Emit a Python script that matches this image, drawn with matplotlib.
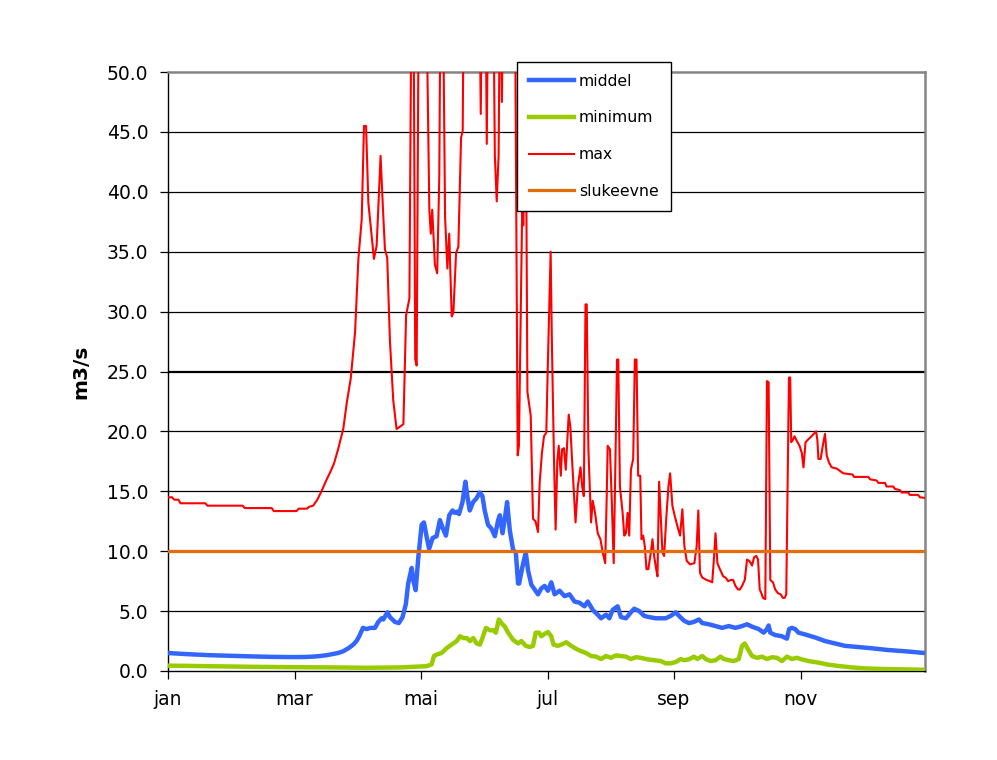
import matplotlib
matplotlib.use("Agg")
import matplotlib.pyplot as plt
from matplotlib.lines import Line2D

# ---------------- data (day of year, m3/s) ----------------
month_ticks = [0, 61, 122, 183, 244, 305]
month_labels = ["jan", "mar", "mai", "jul", "sep", "nov"]
y_ticks = [0, 5, 10, 15, 20, 25, 30, 35, 40, 45, 50]

slukeevne = 10.0

max_pts = [
    (0, 14.5), (2, 14.5), (3, 14.3), (5, 14.3), (6, 14.0), (18, 14.0), (19, 13.8), (36, 13.8),
    (37, 13.6), (50, 13.6), (51, 13.35), (62, 13.35), (63, 13.55), (67, 13.55), (68, 13.7),
    (70, 13.8), (72, 14.3), (74, 15.0), (76, 15.8), (78.5, 16.7), (80, 17.3), (82, 18.5),
    (84.5, 20.2), (86.2, 22.4), (88.1, 24.4), (90.2, 28.3), (91.8, 34.4), (93.4, 37.7),
    (94.5, 45.5), (95.5, 45.5), (96.6, 39.1), (97.7, 37.2), (99.3, 34.4), (100.6, 35.5),
    (102.5, 43.0), (103.8, 38.0), (104.6, 35.2), (105.7, 34.5), (107, 27.6), (108.6, 22.6),
    (110.2, 20.2), (111.9, 20.4), (113.5, 20.6), (114.8, 29.7), (116.4, 31.1), (117.5, 60),
    (118.3, 60), (119.2, 26), (119.9, 25.5), (121.0, 60), (124.3, 60), (126.0, 38.5),
    (126.7, 36.5), (127.4, 38.5), (128.7, 33.9), (129.8, 33.2), (130.8, 41.2), (131.5, 60),
    (132.4, 60), (133.6, 37.9), (134.7, 33.6), (135.6, 36.5), (136.8, 29.6), (137.6, 29.9),
    (138.9, 34.9), (140.0, 35.4), (141.3, 44.5), (142.1, 45.1), (142.7, 60), (150.0, 60),
    (150.8, 46.5), (151.5, 60), (153.0, 60), (153.7, 44.0), (154.5, 60), (156.7, 60),
    (157.6, 43), (158.5, 39.2), (159.4, 43), (160.2, 60), (161.0, 47.5), (161.7, 60),
    (167.2, 60), (168.6, 18.0), (169.2, 18.8), (170.2, 31.6), (170.8, 38.9), (171.3, 37.2),
    (172.0, 42), (172.8, 38.9), (173.3, 23.3), (174.9, 21.3), (176.0, 12.7), (177.2, 12.5),
    (178.4, 11.6), (179.2, 15.7), (180.3, 18.2), (181.3, 19.6), (182.4, 19.9), (183.2, 26),
    (184.5, 35.0), (185.1, 27.4), (186.1, 17.7), (186.9, 11.8), (187.7, 17.5), (188.4, 18.8),
    (189.4, 16.3), (190.0, 18.5), (190.9, 18.6), (191.8, 16.8), (192.4, 18.8), (193.2, 21.4),
    (194.0, 20.4), (194.8, 17.7), (195.7, 14.9), (196.5, 12.4), (197.6, 15.4), (198.9, 17.0),
    (199.7, 15.4), (200.5, 14.6), (201.3, 30.6), (201.9, 30.6), (202.7, 18.5), (204.0, 12.4),
    (204.8, 14.2), (205.9, 13.2), (207.2, 11.5), (208.5, 11.0), (209.6, 9.9), (210.8, 9.0),
    (211.5, 14.3), (212.0, 18.8), (213.1, 18.5), (213.9, 14.6), (214.9, 9.0), (215.7, 17.1),
    (216.5, 26.0), (217.1, 26.0), (217.9, 15.4), (219.2, 13.2), (220.0, 11.3), (220.8, 11.5),
    (221.6, 13.2), (222.4, 11.3), (223.2, 16.8), (224.3, 17.7), (225.1, 26.0), (225.9, 26.0),
    (226.7, 16.3), (227.7, 16.3), (228.3, 11.0), (229.1, 11.3), (229.9, 10.4), (230.7, 8.5),
    (231.6, 8.5), (232.8, 9.9), (233.6, 11.0), (234.4, 9.6), (235.2, 8.7), (236.0, 7.9),
    (236.8, 15.8), (237.6, 12.9), (238.4, 9.9), (239.2, 9.6), (240.3, 12.9), (241.3, 15.4),
    (242.1, 16.5), (243.2, 13.8), (244.4, 12.9), (245.6, 12.1), (246.9, 11.3), (248.0, 13.5),
    (249.0, 10.4), (250.1, 9.2), (251.7, 8.9), (253.8, 9.0), (254.9, 10.4), (255.7, 13.4),
    (256.5, 8.2), (257.6, 7.8), (259.7, 7.6), (261.3, 7.5), (262.4, 7.4), (263.2, 9.3),
    (264.0, 11.5), (264.9, 9.0), (266.1, 8.5), (267.7, 7.9), (268.8, 7.8), (270.1, 7.5),
    (271.4, 7.6), (272.5, 7.6), (273.6, 7.1), (274.9, 6.8), (275.7, 6.8), (276.8, 7.1),
    (278.1, 7.6), (279.2, 9.3), (280.2, 9.2), (281.0, 9.0), (281.6, 8.8), (282.6, 9.5),
    (283.7, 9.6), (284.5, 9.3), (285.3, 6.8), (286.1, 6.5), (286.9, 6.1), (288.0, 6.0),
    (288.8, 24.2), (289.6, 24.1), (290.4, 7.6), (291.7, 7.4), (292.8, 6.8), (294.1, 6.5),
    (295.4, 6.4), (296.5, 6.1), (297.3, 6.1), (298.1, 6.4), (298.9, 17.7), (299.4, 24.5),
    (300.0, 24.5), (300.5, 19.1), (301.3, 19.3), (302.1, 19.6), (303.2, 19.2), (304.5, 18.8),
    (305.6, 18.2), (306.4, 17.0), (307.4, 19.1), (308.5, 19.3), (310.3, 19.6), (312.5, 20.0),
    (313.1, 19.3), (313.6, 17.7), (314.7, 17.7), (315.7, 18.8), (316.8, 19.8), (317.6, 18.0),
    (318.7, 17.4), (320.0, 17.0), (322.4, 16.9), (325.6, 16.5), (330.1, 16.4), (330.8, 16.2),
    (337.7, 16.2), (338.5, 16.0), (341.7, 15.9), (342.5, 15.7), (345.7, 15.7), (346.5, 15.4),
    (349.7, 15.4), (350.5, 15.2), (352.9, 15.1), (353.7, 14.9), (356.9, 14.9), (357.7, 14.7),
    (361.7, 14.7), (362.5, 14.5), (365, 14.45),
]

middel_pts = [
    (0, 1.5), (10, 1.4), (20, 1.32), (30, 1.27), (40, 1.22), (50, 1.18), (60, 1.16), (66, 1.17),
    (70, 1.2), (73.3, 1.25), (76.5, 1.32), (79.7, 1.42), (82, 1.5), (84.5, 1.65), (87, 1.9),
    (89.3, 2.2), (90.9, 2.5), (92.2, 2.9), (94.0, 3.6), (95.7, 3.5), (97.7, 3.6), (99.8, 3.6),
    (101.4, 4.1), (103.0, 4.4), (103.8, 4.3), (105.8, 4.9), (107.0, 4.5), (109.4, 4.1),
    (111.3, 4.0), (113.1, 4.5), (114.7, 5.6), (115.8, 7.3), (117.5, 8.6), (118.2, 7.6),
    (119.4, 6.75), (120.7, 9.5), (122.3, 12.2), (123.4, 12.4), (124.7, 11.2), (125.9, 10.2),
    (127.6, 11.1), (129.5, 11.25), (131.1, 12.6), (132.3, 12.0), (134.0, 11.3), (135.6, 13.0),
    (137.2, 13.4), (138.3, 13.2), (139.4, 13.3), (140.3, 13.1), (142.0, 14.1), (143.4, 15.8),
    (144.4, 14.5), (145.5, 13.4), (147.1, 14.1), (148.7, 14.4), (150.3, 14.9), (151.6, 14.6),
    (152.7, 13.4), (154.3, 12.2), (155.9, 11.9), (157.6, 11.25), (159.2, 12.6), (160.0, 13.0),
    (161.3, 11.5), (162.4, 12.7), (163.5, 14.1), (164.8, 11.75), (166.4, 10.1), (167.7, 9.9),
    (168.8, 7.3), (169.3, 7.3), (170.9, 8.7), (172.5, 9.9), (173.6, 8.4), (175.2, 7.2),
    (176.8, 6.8), (178.4, 6.4), (180.0, 6.9), (181.6, 7.1), (183.2, 6.7), (184.8, 7.4),
    (186.4, 6.4), (188.8, 6.7), (191.2, 6.25), (193.6, 6.4), (196.0, 5.8), (198.4, 5.7),
    (200.8, 5.4), (202.4, 5.8), (204.8, 5.1), (207.2, 4.7), (208.8, 4.4), (211.2, 4.7),
    (212.8, 4.4), (214.4, 5.1), (216.8, 5.4), (218.4, 4.5), (220.8, 4.4), (223.2, 4.9),
    (224.8, 5.2), (227.2, 5.0), (229.6, 4.6), (232.0, 4.5), (235.2, 4.4), (237.6, 4.4),
    (240.0, 4.4), (242.4, 4.6), (244.8, 4.9), (246.4, 4.6), (248.8, 4.2), (251.2, 4.0),
    (253.6, 4.1), (256.0, 4.3), (257.6, 4.0), (260.8, 3.9), (264.0, 3.75), (267.2, 3.6),
    (270.4, 3.75), (273.6, 3.6), (276.8, 3.75), (279.2, 3.9), (281.6, 3.7), (284.8, 3.5),
    (287.2, 3.2), (288.8, 3.5), (289.6, 3.8), (290.4, 3.2), (292.8, 3.0), (296.0, 2.9),
    (298.4, 2.7), (299.5, 3.5), (300.8, 3.6), (302.4, 3.5), (304.0, 3.2), (307.2, 3.05),
    (312.0, 2.8), (316.8, 2.5), (321.6, 2.3), (326.4, 2.1), (332.8, 2.0), (339.2, 1.9),
    (347.2, 1.75), (355.2, 1.65), (365, 1.5),
]

minimum_pts = [
    (0, 0.45), (20, 0.4), (40, 0.35), (60, 0.32), (79.6, 0.3), (95.8, 0.27), (112.0, 0.3),
    (124.7, 0.4), (127.1, 0.55), (128.2, 1.24), (129.5, 1.37), (131.9, 1.5), (134.3, 1.9),
    (136.7, 2.2), (139.2, 2.5), (140.8, 2.9), (142.4, 2.75), (144.0, 2.75), (145.6, 2.5),
    (147.2, 2.75), (148.8, 2.3), (150.4, 2.2), (151.6, 2.75), (153.3, 3.6), (155.2, 3.4),
    (156.8, 3.4), (158.1, 3.2), (159.5, 4.3), (160.8, 4.0), (162.4, 3.7), (164.0, 3.2),
    (166.4, 2.6), (168.8, 2.3), (170.4, 2.5), (172.5, 2.1), (174.4, 2.0), (176.0, 2.1),
    (177.3, 3.2), (178.9, 3.2), (180.0, 2.9), (181.6, 3.1), (183.2, 3.25), (184.8, 2.9),
    (185.9, 2.2), (188.0, 2.1), (189.6, 2.2), (192.0, 2.4), (194.4, 2.1), (196.8, 1.85),
    (199.2, 1.65), (201.6, 1.5), (204.0, 1.25), (206.4, 1.2), (208.8, 1.0), (211.2, 1.25),
    (213.6, 1.1), (216.0, 1.3), (218.4, 1.25), (220.8, 1.2), (223.2, 1.0), (225.6, 1.15),
    (228.0, 1.1), (231.2, 0.97), (234.4, 0.9), (237.6, 0.83), (240.0, 0.64), (242.4, 0.64),
    (244.8, 0.75), (247.2, 1.0), (248.8, 0.9), (251.2, 0.97), (253.6, 1.2), (255.2, 1.0),
    (257.6, 1.25), (259.2, 1.0), (261.6, 0.83), (264.0, 0.9), (266.4, 1.2), (268.0, 1.0),
    (270.4, 0.9), (272.8, 0.83), (275.2, 1.0), (276.8, 2.1), (278.1, 2.3), (279.7, 1.8),
    (281.6, 1.25), (284.0, 1.1), (286.4, 1.2), (288.8, 1.0), (291.2, 1.15), (293.6, 1.1),
    (296.0, 0.83), (298.4, 1.2), (300.8, 1.0), (303.2, 1.1), (305.6, 0.97), (308.8, 0.83),
    (313.6, 0.7), (318.4, 0.53), (323.2, 0.42), (329.6, 0.3), (336.0, 0.22), (344.0, 0.17),
    (353.6, 0.14), (365, 0.1),
]

# ---------------- styling ----------------
C_MID = "#3366FF"
C_MIN = "#99CC00"
C_MAX = "#FF0000"
C_SLU = "#E46C0A"
FONT = "DejaVu Sans"

plt.rcParams["font.family"] = FONT

fig = plt.figure(figsize=(9.97, 7.60), dpi=100)
ax = fig.add_axes([168 / 997, 1 - 671 / 760, (925 - 168) / 997, (671 - 72) / 760])

mx, my = zip(*max_pts)
dx, dy = zip(*middel_pts)
nx, ny = zip(*minimum_pts)

ax.plot(dx, dy, color=C_MID, lw=3.2, solid_capstyle="butt", zorder=3, label="middel")
ax.plot(nx, ny, color=C_MIN, lw=3.2, solid_capstyle="butt", zorder=3, label="minimum")
ax.plot(mx, my, color=C_MAX, lw=1.5, zorder=4, label="max")
ax.plot([0, 365], [slukeevne, slukeevne], color=C_SLU, lw=2.3, zorder=5, label="slukeevne")

ax.set_xlim(0, 365)
ax.set_ylim(0, 50)

ax.set_yticks(y_ticks)
ax.set_yticklabels([f"{v:.1f}" for v in y_ticks])
ax.set_xticks(month_ticks)
ax.set_xticklabels(month_labels)

for v in y_ticks[1:-1]:
    ax.axhline(v, color="black", lw=1.6 if v == 25 else 0.9, zorder=1)

ax.tick_params(axis="y", direction="out", length=6, width=0.9, pad=8,
               labelsize=13.5, colors="black")
ax.tick_params(axis="x", direction="out", length=6, width=0.9, pad=8,
               labelsize=13.5, colors="black")

for s in ("top", "right"):
    ax.spines[s].set_color("#858585")
    ax.spines[s].set_linewidth(1.8)
for s in ("left", "bottom"):
    ax.spines[s].set_color("black")
    ax.spines[s].set_linewidth(1.0)

ax.set_ylabel("m3/s", fontsize=14.5, fontweight="bold", labelpad=12)

handles = [
    Line2D([], [], color=C_MID, lw=3.2),
    Line2D([], [], color=C_MIN, lw=3.2),
    Line2D([], [], color=C_MAX, lw=1.5),
    Line2D([], [], color=C_SLU, lw=2.3),
]
leg = ax.legend(handles, ["middel", "minimum", "max", "slukeevne"],
                loc="upper left", bbox_to_anchor=(517 / 997, 1 - 62 / 760),
                bbox_transform=fig.transFigure, borderaxespad=0,
                fontsize=11.3, frameon=True, fancybox=False, framealpha=1,
                edgecolor="black", handlelength=2.9, handletextpad=0.3,
                labelspacing=1.38, borderpad=0.75)
leg.get_frame().set_linewidth(1.0)
leg.set_zorder(10)

fig.savefig("out.png", dpi=100)
